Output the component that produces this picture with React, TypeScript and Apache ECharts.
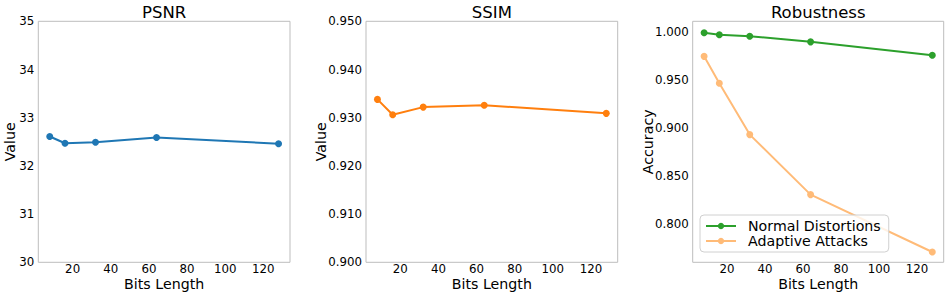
import React, { useEffect, useRef } from "react";
import * as echarts from "echarts";

const bits = [8, 16, 32, 64, 128];
const psnr = [32.61, 32.47, 32.49, 32.59, 32.46];
const ssim = [0.9338, 0.9306, 0.9322, 0.9326, 0.9309];
const normalDistortions = [0.999, 0.997, 0.9955, 0.9896, 0.9757];
const adaptiveAttacks = [0.9745, 0.9465, 0.893, 0.8305, 0.7707];

const xTicks = [20, 40, 60, 80, 100, 120];
const robustTicks = [0.8, 0.85, 0.9, 0.95, 1.0];

const titles = ["PSNR", "SSIM", "Robustness"];
const yNames = ["Value", "Value", "Accuracy"];

const FONT = "DejaVu Sans";

export default function App() {
  const ref = useRef<HTMLDivElement>(null);
  useEffect(() => {
    if (!ref.current) return;
    const chart = echarts.init(ref.current, undefined, { renderer: "svg" });
    const lefts = [38.3, 366, 692.7];
    const widths = [251.7, 251.7, 251];
    const top = 21.3;
    const height = 241;
    const grids = lefts.map((l, i) => ({
      left: l,
      top,
      width: widths[i],
      height,
      show: true,
      borderColor: "#bdbdbd",
      borderWidth: 1,
      backgroundColor: "transparent",
      containLabel: false,
      outerBoundsMode: "none",
    }));
    const xAxes = lefts.map((_, i) => ({
      type: "value",
      gridIndex: i,
      min: 2,
      max: 134,
      name: "Bits Length",
      nameLocation: "middle",
      nameGap: 14.5,
      nameMoveOverlap: false,
      nameTextStyle: { fontFamily: FONT, fontSize: 14.2, color: "#000" },
      axisLine: { show: false },
      axisTick: { show: false, customValues: xTicks },
      splitLine: { show: false },
      axisLabel: {
        customValues: xTicks,
        fontFamily: FONT,
        fontSize: 11.8,
        color: "#000",
        margin: 0.5,
      },
    }));
    const yLabelBase = {
      fontFamily: FONT,
      fontSize: 11.8,
      color: "#000",
      margin: 4,
    };
    const yAxes: any[] = [
      {
        type: "value",
        gridIndex: 0,
        min: 30,
        max: 35,
        interval: 1,
        axisLabel: { ...yLabelBase },
      },
      {
        type: "value",
        gridIndex: 1,
        min: 0.9,
        max: 0.95,
        interval: 0.01,
        axisLabel: { ...yLabelBase, formatter: (v: number) => v.toFixed(3) },
      },
      {
        type: "value",
        gridIndex: 2,
        min: 0.76,
        max: 1.011,
        axisLabel: {
          ...yLabelBase,
          customValues: robustTicks,
          formatter: (v: number) => v.toFixed(3),
        },
        axisTick: { show: false, customValues: robustTicks },
      },
    ].map((a, i) => ({
      ...a,
      name: yNames[i],
      nameLocation: "middle",
      nameGap: [21, 38, 37.5][i],
      nameMoveOverlap: false,
      nameTextStyle: { fontFamily: FONT, fontSize: 14.2, color: "#000" },
      axisLine: { show: false },
      axisTick: { show: false, ...(a.axisTick || {}) },
      splitLine: { show: false },
    }));
    const mk = (vals: number[]) => bits.map((b, i) => [b, vals[i]]);
    const lineBase = {
      type: "line",
      symbol: "circle",
      symbolSize: 7,
      lineStyle: { width: 2 },
    };
    chart.setOption({
      animation: false,
      title: titles.map((t, i) => ({
        text: t,
        left: lefts[i] + widths[i] / 2,
        top: 4,
        padding: 0,
        textAlign: "center",
        textStyle: { fontFamily: FONT, fontSize: 16.5, fontWeight: "normal", color: "#000" },
      })),
      grid: grids,
      xAxis: xAxes,
      yAxis: yAxes,
      legend: {
        left: 700,
        top: 215,
        orient: "vertical",
        itemWidth: 30,
        itemHeight: 8,
        itemGap: 1,
        padding: [4, 8, 4, 5],
        borderColor: "#d0d0d0",
        borderWidth: 1,
        borderRadius: 4,
        backgroundColor: "rgba(255,255,255,0.8)",
        textStyle: { fontFamily: FONT, fontSize: 14.2, color: "#000", padding: [0, 0, 0, 7] },
        data: ["Normal Distortions", "Adaptive Attacks"],
      },
      series: [
        {
          ...lineBase,
          name: "PSNR",
          xAxisIndex: 0,
          yAxisIndex: 0,
          data: mk(psnr),
          itemStyle: { color: "#1f77b4" },
          lineStyle: { width: 2, color: "#1f77b4" },
        },
        {
          ...lineBase,
          name: "SSIM",
          xAxisIndex: 1,
          yAxisIndex: 1,
          data: mk(ssim),
          itemStyle: { color: "#ff7f0e" },
          lineStyle: { width: 2, color: "#ff7f0e" },
        },
        {
          ...lineBase,
          name: "Normal Distortions",
          xAxisIndex: 2,
          yAxisIndex: 2,
          data: mk(normalDistortions),
          itemStyle: { color: "#2ca02c" },
          lineStyle: { width: 2, color: "#2ca02c" },
        },
        {
          ...lineBase,
          name: "Adaptive Attacks",
          xAxisIndex: 2,
          yAxisIndex: 2,
          data: mk(adaptiveAttacks),
          itemStyle: { color: "#ffbb78" },
          lineStyle: { width: 2, color: "#ffbb78" },
          z: 1,
        },
      ],
    });
    return () => chart.dispose();
  }, []);
  return (
    <div
      ref={ref}
      style={{ position: "fixed", left: 0, top: 0, width: 948, height: 297, background: "#fff" }}
    />
  );
}
